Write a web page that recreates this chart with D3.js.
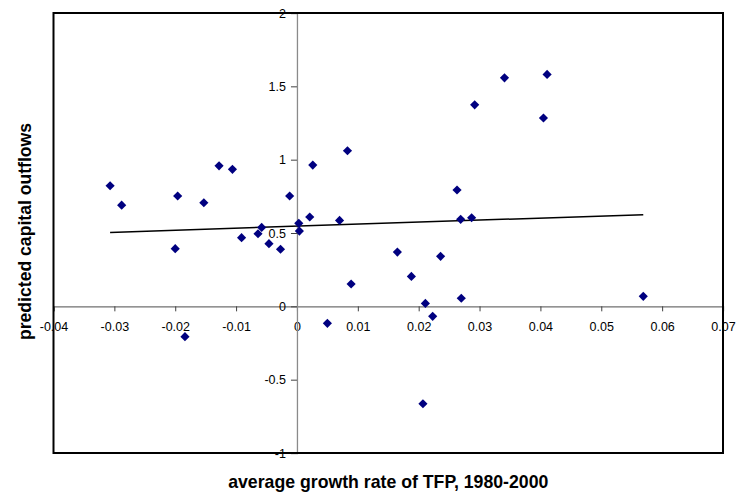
<!DOCTYPE html>
<html>
<head>
<meta charset="utf-8">
<script src="https://cdn.jsdelivr.net/npm/d3@7"></script>
<style>
  html, body { margin: 0; padding: 0; background: #fff; }
  svg { display: block; }
</style>
</head>
<body>
<svg id="chart" width="737" height="495"></svg>
<script>
// TFP growth (x) vs predicted capital outflows (y)
const tfpGrowth = [
  -0.0307, -0.0288, -0.0196, -0.0200, -0.0153, -0.0128, -0.0106, -0.0091,
  -0.0064, -0.0058, -0.0046, -0.0027, -0.0012, 0.0003, 0.0004, 0.0021,
  0.0026, 0.0070, 0.0083, 0.0089, 0.0165, 0.0188, 0.0211, 0.0223,
  0.0236, 0.0263, 0.0269, 0.0270, 0.0287, 0.0292, 0.0341, 0.0411,
  0.0405, -0.0184, 0.0050, 0.0207, 0.0569
];
const outflows = [
  0.822, 0.690, 0.752, 0.393, 0.706, 0.958, 0.934, 0.468,
  0.495, 0.538, 0.427, 0.389, 0.752, 0.566, 0.513, 0.609,
  0.963, 0.586, 1.061, 0.152, 0.370, 0.204, 0.020, -0.068,
  0.341, 0.793, 0.593, 0.055, 0.604, 1.374, 1.558, 1.581,
  1.284, -0.207, -0.116, -0.664, 0.068
];

// linear trendline end points (as drawn)
const trendX = [-0.0307, 0.0569];
const trendY = [0.504, 0.625];

const xTicks = [-0.04, -0.03, -0.02, -0.01, 0, 0.01, 0.02, 0.03, 0.04, 0.05, 0.06, 0.07];
const yTicks = [-1, -0.5, 0, 0.5, 1, 1.5, 2];

const xTitle = "average growth rate of TFP, 1980-2000";
const yTitle = "predicted capital outflows";

const svg = d3.select("#chart");
const box = { left: 53.5, right: 723, top: 13, bottom: 453 };

const x = d3.scaleLinear().domain([-0.04, 0.07]).range([box.left, box.right]);
const y = d3.scaleLinear().domain([-1, 2]).range([box.bottom, box.top]);

const font = "'Liberation Sans', Arial, sans-serif";
// plain hyphen for negatives, like the original
const fmt = d => String(+d.toFixed(2));

// -------- axes crossing at zero --------
const xAxis = svg.append("g")
  .attr("transform", `translate(0,${y(0)})`)
  .call(d3.axisBottom(x).tickValues(xTicks).tickSize(5).tickPadding(11).tickFormat(fmt));
xAxis.select(".domain").attr("stroke", "#707070").attr("stroke-width", 1.3);
xAxis.selectAll(".tick line").attr("stroke", "#404040");
xAxis.selectAll(".tick text")
  .attr("font-family", font).attr("font-size", 12.5).attr("fill", "#000");

const yAxis = svg.append("g")
  .attr("transform", `translate(${x(0)},0)`)
  .call(d3.axisLeft(y).tickValues(yTicks).tickSize(6).tickPadding(5).tickFormat(fmt));
yAxis.select(".domain").attr("stroke", "#8a8a8a").attr("stroke-width", 1.3);
yAxis.selectAll(".tick line").attr("stroke", "#404040");
yAxis.selectAll(".tick text")
  .attr("font-family", font).attr("font-size", 12.5).attr("fill", "#000");

// -------- plot area border --------
svg.append("rect")
  .attr("x", box.left)
  .attr("y", box.top)
  .attr("width", box.right - box.left)
  .attr("height", box.bottom - box.top)
  .attr("fill", "none")
  .attr("stroke", "#000")
  .attr("stroke-width", 2);

// -------- trendline --------
svg.append("line")
  .attr("x1", x(trendX[0])).attr("y1", y(trendY[0]))
  .attr("x2", x(trendX[1])).attr("y2", y(trendY[1]))
  .attr("stroke", "#000")
  .attr("stroke-width", 1.5);

// -------- points --------
const pts = tfpGrowth.map((v, i) => ({ x: v, y: outflows[i] }));
const diamond = d3.symbol().type(d3.symbolSquare).size(42);

svg.append("g").selectAll("path")
  .data(pts)
  .enter()
  .append("path")
  .attr("d", diamond)
  .attr("transform", d => `translate(${x(d.x)},${y(d.y)}) rotate(45)`)
  .attr("fill", "#000080");

// -------- titles --------
svg.append("text")
  .attr("x", (box.left + box.right) / 2)
  .attr("y", 488)
  .attr("text-anchor", "middle")
  .attr("font-family", font)
  .attr("font-weight", "bold")
  .attr("font-size", 17.7)
  .text(xTitle);

svg.append("text")
  .attr("transform", `translate(31,${(123 + 340) / 2}) rotate(-90)`)
  .attr("text-anchor", "middle")
  .attr("font-family", font)
  .attr("font-weight", "bold")
  .attr("font-size", 17.6)
  .text(yTitle);
</script>
</body>
</html>
